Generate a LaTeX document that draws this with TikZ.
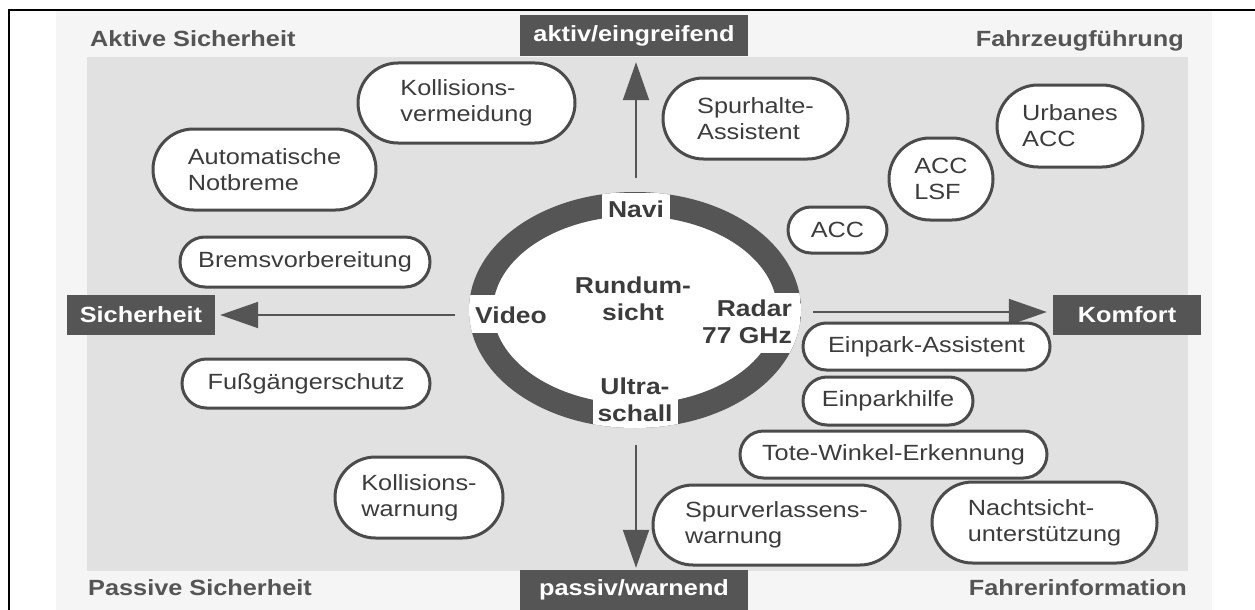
\documentclass[tikz,border=0pt]{standalone}
\usepackage{fontspec}
\setmainfont{Liberation Sans}[FakeStretch=1.15]
\usetikzlibrary{arrows.meta,shapes.geometric,shapes.misc}
\definecolor{dk}{RGB}{85,85,85}
\definecolor{pillbd}{RGB}{75,75,75}
\definecolor{txt}{RGB}{60,60,60}
\definecolor{panel}{RGB}{225,225,225}
\definecolor{outerp}{RGB}{245,245,245}
\begin{document}
\begin{tikzpicture}[x=1pt,y=-1pt,
  pill/.style 2 args={draw=pillbd, line width=3pt, fill=white, rounded rectangle,
    minimum width=#1, minimum height=#2,
    inner sep=0pt, align=left, text=txt, font=\fontsize{22}{26}\selectfont},
  dbox/.style 2 args={fill=dk, minimum width=#1, minimum height=#2,
    inner sep=0pt, text=white, font=\bfseries\fontsize{22}{26}\selectfont},
  corner/.style={text=dk, font=\bfseries\fontsize{22}{26}\selectfont, inner sep=0pt},
  arr/.style={draw=dk, line width=2pt, -{Triangle[length=38pt,width=26pt]}},
  ringtxt/.style={text=txt, font=\bfseries\fontsize{23}{27}\selectfont, inner sep=0pt},
]
\useasboundingbox (0,0) rectangle (1255,610);
% panels
\fill[white] (0,0) rectangle (1255,610);
\fill[outerp] (56,11) rectangle (1212,610);
\fill[panel] (87,57) rectangle (1188,571);
\draw[black, line width=2.5pt] (9,610) -- (9,10) -- (1255,10);

% corner labels
\node[corner, anchor=base west] (cAS) at (90,47) {Aktive Sicherheit};
\node[corner, anchor=base east] (cFF) at (1184,47) {Fahrzeugführung};
\node[corner, anchor=base west] (cPS) at (88,595) {Passive Sicherheit};
\node[corner, anchor=base east] (cFI) at (1187,595) {Fahrerinformation};

% direction boxes
\node[dbox={228}{41}] (aktiv) at (634,35.5) {aktiv/eingreifend};
\node[dbox={228}{40}] (passiv) at (634,590) {passiv/warnend};
\node[dbox={148}{40}] (sich) at (141,315) {Sicherheit};
\node[dbox={148}{40}] (komf) at (1127,315) {Komfort};

% ring
\node[draw=dk, line width=24pt, ellipse, minimum width=308, minimum height=212,
      inner sep=0pt, fill=white] (ring) at (635,310) {};
\begin{scope}
  \clip (635,310) ellipse [x radius=166, y radius=118];
  \fill[white] (602,193) rectangle (670,220);
  \fill[white] (469,295) rectangle (547,333);
  \fill[white] (702,293) rectangle (801,353);
  \fill[white] (593,377) rectangle (678,428);
\end{scope}
\node[ringtxt, anchor=base] (navi) at (636,217) {Navi};
\node[ringtxt, anchor=base] (video) at (511,323) {Video};
\node[ringtxt, align=center] (rund) at (633,299) {Rundum-\\sicht};
\node[ringtxt, align=right] (radar) at (747,322) {Radar\\77 GHz};
\node[ringtxt, align=center] (ultra) at (635,400) {Ultra-\\schall};

% arrows
\coordinate (aU) at (636,178);
\coordinate (aD) at (636,445);
\coordinate (aL) at (455,315);
\coordinate (aR) at (813,312);
\draw[arr, shorten >=6pt] (aU) -- (aU |- aktiv.south);
\draw[arr, shorten >=2pt] (aD) -- (aD |- passiv.north);
\draw[arr, shorten >=5pt] (aL) -- (aL -| sich.east);
\draw[arr, shorten >=6pt] (aR) -- (aR -| komf.west);

% pills
\node[pill={217}{80}] (kollv) at (466.5,103) {Kollisions-\\vermeidung};
\node[pill={223}{81}] (autonot) at (264.5,169.5) {Automatische\\Notbreme};
\node[pill={185}{81}] (spurh) at (755.5,118.5) {Spurhalte-\\Assistent};
\node[pill={146}{82}] (urban) at (1070,126) {Urbanes\\ACC};
\node[pill={104}{82}] (acclsf) at (941,179) {ACC\\LSF};
\node[pill={99}{46}] (acc) at (837.5,230) {ACC};
\node[pill={250}{50}] (brems) at (305,262) {Bremsvorbereitung};
\node[pill={248}{49}] (fuss) at (306,383.5) {Fußgängerschutz};
\node[pill={247}{47}] (einpa) at (926.5,346.5) {Einpark-Assistent};
\node[pill={170}{48}] (einph) at (888,401) {Einparkhilfe};
\node[pill={307}{47}] (tote) at (893.5,454.5) {Tote-Winkel-Erkennung};
\node[pill={168}{81}] (kollw) at (419,497.5) {Kollisions-\\warnung};
\node[pill={247}{80}] (spurv) at (776.5,525) {Spurverlassens-\\warnung};
\node[pill={225}{81}] (nacht) at (1044.5,522.5) {Nachtsicht-\\unterstützung};
\end{tikzpicture}
\end{document}
